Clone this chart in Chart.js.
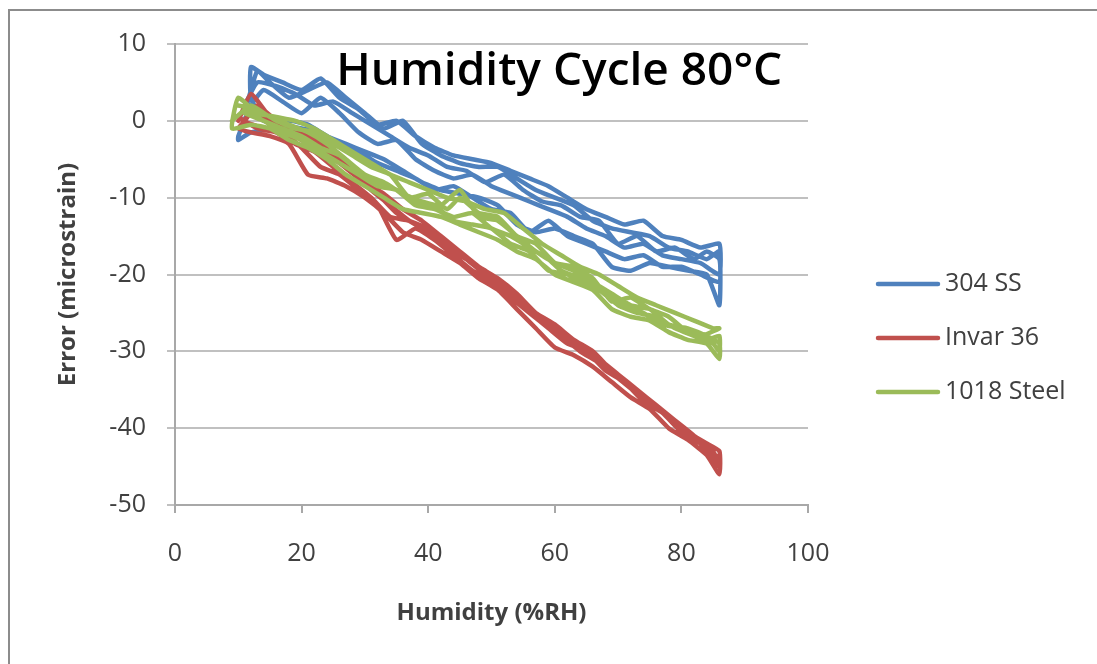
<!DOCTYPE html>
<html>
<head>
<meta charset="utf-8">
<title>Humidity Cycle 80°C</title>
<script src="https://cdn.jsdelivr.net/npm/chart.js@4.4.0/dist/chart.umd.min.js"></script>
<style>
  html, body { margin: 0; padding: 0; background: #fff; overflow: hidden; }
  canvas { display: block; }
</style>
</head>
<body>
<canvas id="humidityChart" width="1097" height="664"></canvas>
<script>
const chartTitle = 'Humidity Cycle 80°C';
const seriesNames = ['304 SS', 'Invar 36', '1018 Steel'];
const seriesColors = ['#4f81bd', '#c0504d', '#9bbb59'];
const xTitle = 'Humidity (%RH)';
const yTitle = 'Error (microstrain)';

// 304 SS - six humidity sweeps (up, down, up, down, up, down)
const ss304Rh = [
  11, 13, 15, 18, 21, 24, 27, 30, 33, 36, 39, 42, 45, 48, 51, 54, 57, 60, 63, 66, 69, 72, 75, 78, 81, 84, 86,
  86, 84, 81, 78, 75, 72, 69, 66, 63, 60, 57, 54, 51, 48, 45, 42, 39, 36, 33, 30, 27, 24, 21, 18, 15, 12, 10,
  10, 12, 14, 17, 20, 23, 26, 29, 32, 35, 38, 41, 44, 47, 50, 53, 56, 59, 62, 65, 68, 71, 74, 77, 80, 83, 86,
  86, 83, 80, 77, 74, 71, 68, 65, 62, 59, 56, 53, 50, 47, 44, 41, 38, 35, 32, 29, 26, 23, 20, 17, 14, 12,
  12, 14, 17, 20, 23, 26, 29, 32, 35, 38, 41, 44, 47, 50, 53, 56, 59, 62, 65, 68, 71, 74, 77, 80, 83, 86,
  86, 84, 82, 79, 76, 73, 70, 67, 64, 61, 58, 55, 52, 49, 46, 43, 40, 37, 34, 31, 28, 25, 22, 19, 16, 13, 11
];
const ss304Err = [
  1, 6.5, 5, 3, 4, 5, 3, 1, -1, 0, -3, -4.5, -5.5, -6, -6, -7.5, -9, -10, -11, -13, -14, -14.5, -15, -16.5, -17, -18, -17,
  -24, -20, -19.5, -19, -18.5, -19.5, -19, -16, -15, -14, -14.5, -13.5, -11, -10, -9.5, -9, -8, -6.5, -5, -4, -3, -2, -0.5, 0, -1, -1.5, -2.5,
  -2, 2, 4, 2.5, 1, 3, 1, -1.5, -3, -2.5, -5, -6.5, -7.5, -7, -8.5, -9.5, -10.5, -11.5, -12.5, -14, -15, -16.5, -16, -17.5, -18, -18.5, -20,
  -16, -16.5, -15.5, -15, -13, -13.5, -12.5, -11.5, -10, -8.5, -7.5, -6.5, -5.5, -5, -4.5, -3.5, -2, 0, -0.5, 1.5, 3, 5.5, 4, 5, 6, 7,
  3, 0, -0.5, -1, -1.5, -3, -4, -5.5, -6.5, -7.5, -9, -8.5, -10, -11.5, -12, -14.5, -13, -15, -16, -17, -18, -17.5, -19, -19, -20, -21,
  -18, -17, -18, -16.5, -17, -15, -16, -13, -12.5, -11, -10.5, -9, -7, -8, -6.5, -6, -4.5, -3.5, -2, -0.5, 1, 2.5, 2, 3.5, 4.5, 5, 2
];

// Invar 36
const invarRh = [
  10, 12, 15, 18, 21, 24, 27, 30, 33, 36, 39, 42, 45, 48, 51, 54, 57, 60, 63, 66, 69, 72, 75, 78, 81, 84, 86,
  86, 84, 81, 78, 75, 72, 69, 66, 63, 60, 57, 54, 51, 48, 45, 42, 39, 36, 33, 30, 27, 24, 21, 18, 15, 12, 10,
  11, 13, 16, 19, 22, 25, 28, 31, 34, 37, 40, 43, 46, 49, 52, 55, 58, 61, 64, 67, 70, 73, 76, 79, 82, 85,
  86, 83, 80, 77, 74, 71, 68, 65, 62, 59, 56, 53, 50, 47, 44, 41, 38, 35, 32, 29, 26, 23, 20, 17, 14, 11,
  12, 14, 17, 20, 23, 26, 29, 32, 35, 38, 41, 44, 47, 50, 53, 56, 59, 62, 65, 68, 71, 74, 77, 80, 83, 86,
  85, 82, 79, 76, 73, 70, 67, 64, 61, 58, 55, 52, 49, 46, 43, 40, 37, 34, 31, 28, 25, 22, 19, 16, 13, 10
];
const invarErr = [
  0, 3.5, 0.5, -1, -2, -3.5, -5.5, -8, -9.5, -11.5, -13, -15, -17, -19, -20.5, -22.5, -25, -26.5, -28.5, -30, -32.5, -34.5, -36.5, -38.5, -40.5, -42, -43,
  -46, -43.5, -41.5, -40, -37.5, -36, -34, -32, -30.5, -29.5, -27, -24.5, -22, -20.5, -18.5, -17, -15.5, -14.5, -12, -10, -8.5, -7.5, -7, -3, -2, -1.5, -1,
  0, 2, 0, -1.5, -3, -4.5, -6.5, -9, -11, -13, -14, -16, -18, -19.5, -21.5, -24, -26, -27.5, -29.5, -31, -33, -35, -37, -39, -41, -44,
  -44, -42, -40.5, -38, -36.5, -34, -32.5, -30, -29, -27, -25, -23, -21, -19.5, -17.5, -15.5, -14, -15.5, -11, -9, -7, -6, -3.5, -1.5, -1, 0,
  1, 0.5, -1, -2.5, -4, -5.5, -7.5, -9.5, -12, -13.5, -15, -17, -18.5, -20.5, -22.5, -24.5, -27, -28.5, -30, -32, -34, -36, -38, -40, -42, -45,
  -43, -41, -39.5, -37, -35.5, -33.5, -31.5, -30, -28, -26, -24, -21.5, -20, -18, -16.5, -14.5, -13, -12.5, -10, -8, -6, -4, -3, -1.5, -1, 0.5
];

// 1018 Steel
const steelRh = [
  9, 12, 15, 18, 21, 24, 27, 30, 33, 36, 39, 42, 45, 48, 51, 54, 57, 60, 63, 66, 69, 72, 75, 78, 81, 84, 86,
  86, 84, 81, 78, 75, 72, 69, 66, 63, 60, 57, 54, 51, 48, 45, 42, 39, 36, 33, 30, 27, 24, 21, 18, 15, 12, 9,
  10, 13, 16, 19, 22, 25, 28, 31, 34, 37, 40, 43, 46, 49, 52, 55, 58, 61, 64, 67, 70, 73, 76, 79, 82, 85,
  86, 83, 80, 77, 74, 71, 68, 65, 62, 59, 56, 53, 50, 47, 44, 41, 38, 35, 32, 29, 26, 23, 20, 17, 14, 11,
  11, 14, 17, 20, 23, 26, 29, 32, 35, 38, 41, 44, 47, 50, 53, 56, 59, 61, 64, 67, 70, 73, 76, 79, 82, 85, 86,
  86, 84, 81, 78, 75, 72, 69, 66, 63, 60, 57, 54, 51, 48, 45, 43, 40, 37, 34, 31, 28, 25, 22, 19, 16, 13, 10
];
const steelErr = [
  0, 2, 0.5, -0.5, -1.5, -3, -5, -7, -8, -9.5, -10.5, -11, -9, -12.5, -13, -15, -17, -18.5, -19.5, -21, -22.5, -24, -24.5, -26.5, -27, -28, -29,
  -31, -29, -28.5, -27.5, -26, -25.5, -24.5, -22, -21, -20, -18, -17, -15.5, -14.5, -13.5, -12.5, -12, -11.5, -10, -8.5, -7, -5, -3.5, -2.5, -1, -0.5, -1,
  3, 1, 0.5, 0, -1, -2.5, -4, -5.5, -7, -8, -9, -10, -10.5, -11.5, -12, -14, -16, -17.5, -19, -20, -21.5, -23, -24, -25, -26, -27,
  -27, -28, -27, -26.5, -25, -24, -22, -21.5, -20, -19.5, -17, -16, -14, -13.5, -13, -11, -10.5, -9, -8.5, -7, -5.5, -4, -2.5, -1.5, 0, 1,
  1.5, 0, -1, -2, -3.5, -4.5, -6.5, -8, -9, -11, -11.5, -12.5, -12, -14, -15, -16.5, -18, -19.5, -20.5, -22, -24, -25, -25.5, -27, -28, -29, -30,
  -28, -28.5, -27.5, -25.5, -24.5, -23, -23.5, -20.5, -19, -18.5, -16, -15, -12.5, -12, -10, -11.5, -9.5, -10, -7, -6, -4.5, -3, -1.5, -1, 0, 1.5, 2
];

const toPoints = (rh, err) => rh.map((x, i) => ({ x: x, y: err[i] }));

const textColor = '#404040';
const gridColor = '#c0c0c0';
const axisColor = '#a8a8a8';

Chart.defaults.font.family = '"Open Sans", sans-serif';

// outer chart frame (top and left edges only, the rest is cropped off)
const framePlugin = {
  id: 'frame',
  beforeDraw(chart) {
    const ctx = chart.ctx;
    ctx.save();
    ctx.strokeStyle = '#8c8c8c';
    ctx.lineWidth = 2;
    ctx.beginPath();
    ctx.moveTo(9, chart.height);
    ctx.lineTo(9, 10);
    ctx.lineTo(chart.width, 10);
    ctx.stroke();
    ctx.restore();
  }
};

// title sits inside the plot area, like the original
const insideTitle = {
  id: 'insideTitle',
  afterDatasetsDraw(chart) {
    const { ctx, chartArea } = chart;
    ctx.save();
    ctx.font = '600 46px "Open Sans"';
    ctx.fillStyle = '#000';
    ctx.textAlign = 'center';
    ctx.textBaseline = 'alphabetic';
    ctx.fillText(chartTitle, chartArea.left + chartArea.width * 0.607, chartArea.top + 41);
    ctx.restore();
  }
};

// legend to the right of the plot, line sample + label
const sideLegend = {
  id: 'sideLegend',
  afterDraw(chart) {
    const { ctx, chartArea } = chart;
    const x0 = chartArea.right + 70;
    const yMid = chartArea.top + 294;
    ctx.save();
    ctx.font = '25px "Open Sans"';
    ctx.textAlign = 'left';
    ctx.textBaseline = 'middle';
    chart.data.datasets.forEach((ds, i) => {
      const y = yMid + (i - 1) * 54;
      ctx.strokeStyle = ds.borderColor;
      ctx.lineWidth = 4.5;
      ctx.lineCap = 'round';
      ctx.beginPath();
      ctx.moveTo(x0, y);
      ctx.lineTo(x0 + 60, y);
      ctx.stroke();
      ctx.fillStyle = textColor;
      ctx.fillText(ds.label, x0 + 67, y);
    });
    ctx.restore();
  }
};

const lineStyle = {
  showLine: true,
  pointRadius: 0,
  borderWidth: 4.5,
  tension: 0.15,
  borderJoinStyle: 'round',
  borderCapStyle: 'round',
  fill: false
};

new Chart(document.getElementById('humidityChart'), {
  type: 'scatter',
  data: {
    datasets: [
      { ...lineStyle, label: seriesNames[0], data: toPoints(ss304Rh, ss304Err),
        borderColor: seriesColors[0], backgroundColor: seriesColors[0], order: 2 },
      { ...lineStyle, label: seriesNames[1], data: toPoints(invarRh, invarErr),
        borderColor: seriesColors[1], backgroundColor: seriesColors[1], order: 1 },
      { ...lineStyle, label: seriesNames[2], data: toPoints(steelRh, steelErr),
        borderColor: seriesColors[2], backgroundColor: seriesColors[2], order: 0 }
    ]
  },
  options: {
    responsive: false,
    animation: false,
    layout: { padding: { top: 44, right: 289, bottom: 32, left: 0 } },
    plugins: {
      title: { display: false },
      tooltip: { enabled: false },
      legend: { display: false }
    },
    scales: {
      x: {
        type: 'linear',
        min: 0,
        max: 100,
        ticks: { stepSize: 20, padding: 26, color: textColor, font: { size: 25 } },
        grid: { drawOnChartArea: false, drawTicks: true, tickLength: 8, color: axisColor, lineWidth: 2 },
        border: { color: axisColor, width: 2 },
        title: { display: true, text: xTitle, color: textColor, font: { size: 24, weight: 'bold' },
                 padding: { top: 0, bottom: 4 } },
        afterFit: s => { s.height = 127; }
      },
      y: {
        type: 'linear',
        min: -50,
        max: 10,
        ticks: { stepSize: 10, padding: 21, color: textColor, font: { size: 25 } },
        grid: { color: gridColor, lineWidth: 2, tickLength: 8 },
        border: { color: axisColor, width: 2 },
        title: { display: true, text: yTitle, color: textColor, font: { size: 24, weight: 'bold' },
                 padding: { top: 54, bottom: 0 } },
        afterFit: s => { s.width = 175; }
      }
    }
  },
  plugins: [framePlugin, insideTitle, sideLegend]
});
</script>
</body>
</html>
